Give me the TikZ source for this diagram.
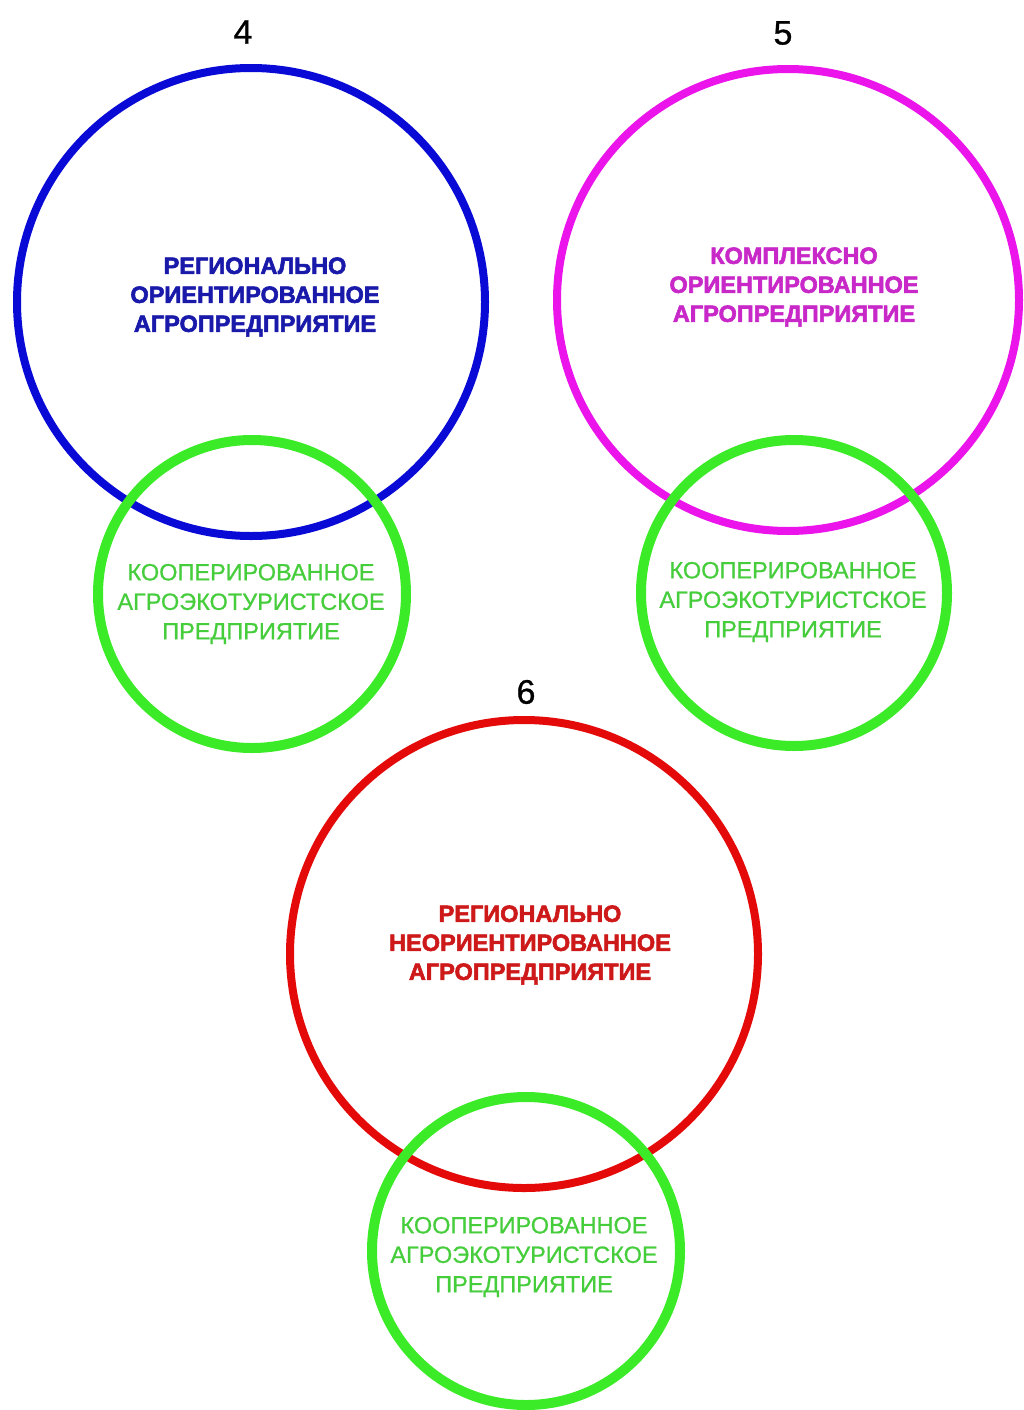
\documentclass[tikz,border=0pt]{standalone}
\usepackage{fontspec}
\setmainfont{Liberation Sans}
\newfontfamily\heavyfont{Liberation Sans Bold}[FakeBold=2.5]
\newfontfamily\midfont{Liberation Sans}[FakeBold=0.8]
\definecolor{cblue}{RGB}{10,10,215}
\definecolor{tblue}{RGB}{25,25,170}
\definecolor{cmag}{RGB}{235,20,235}
\definecolor{tmag}{RGB}{200,40,200}
\definecolor{cred}{RGB}{228,10,10}
\definecolor{tred}{RGB}{205,25,25}
\definecolor{cgreen}{RGB}{60,235,40}
\definecolor{tgreen}{RGB}{70,205,60}
\tikzset{
  bigring/.style={line width=8pt},
  smallring/.style={draw=cgreen,line width=10pt},
  title/.style={align=center,font=\fontsize{23.5}{29}\selectfont\heavyfont,inner sep=0pt},
  subtitle/.style={align=center,font=\fontsize{23.5}{29.5}\selectfont\midfont,text=tgreen,inner sep=0pt},
  numlabel/.style={font=\fontsize{34}{36}\selectfont\midfont,inner sep=0pt}
}
\begin{document}
\begin{tikzpicture}[x=1pt,y=-1pt]
\useasboundingbox[fill=white] (0,0) rectangle (1024,1410);
% big circles
\draw[bigring,draw=cblue] (251,302) circle[radius=234];
\draw[bigring,draw=cmag] (788,300) circle[radius=231];
\draw[bigring,draw=cred] (524,954) circle[radius=234];
% small circles
\draw[smallring] (252,594) circle[radius=154];
\draw[smallring] (794,593) circle[radius=153];
\draw[smallring] (526,1251) circle[radius=154];
% numbers
\node[numlabel] (n4) at (243,32) {4};
\node[numlabel] (n5) at (783,33) {5};
\node[numlabel] (n6) at (526,692) {6};
% titles
\node[title,text=tblue] (t4) at (255,297) {РЕГИОНАЛЬНО\\ОРИЕНТИРОВАННОЕ\\АГРОПРЕДПРИЯТИЕ};
\node[title,text=tmag] (t5) at (794,287) {КОМПЛЕКСНО\\ОРИЕНТИРОВАННОЕ\\АГРОПРЕДПРИЯТИЕ};
\node[title,text=tred] (t6) at (530,945) {РЕГИОНАЛЬНО\\НЕОРИЕНТИРОВАННОЕ\\АГРОПРЕДПРИЯТИЕ};
% green texts
\node[subtitle] (g4) at (251,604) {КООПЕРИРОВАННОЕ\\АГРОЭКОТУРИСТСКОЕ\\ПРЕДПРИЯТИЕ};
\node[subtitle] (g5) at (793,602) {КООПЕРИРОВАННОЕ\\АГРОЭКОТУРИСТСКОЕ\\ПРЕДПРИЯТИЕ};
\node[subtitle] (g6) at (524,1257) {КООПЕРИРОВАННОЕ\\АГРОЭКОТУРИСТСКОЕ\\ПРЕДПРИЯТИЕ};
\end{tikzpicture}
\end{document}
